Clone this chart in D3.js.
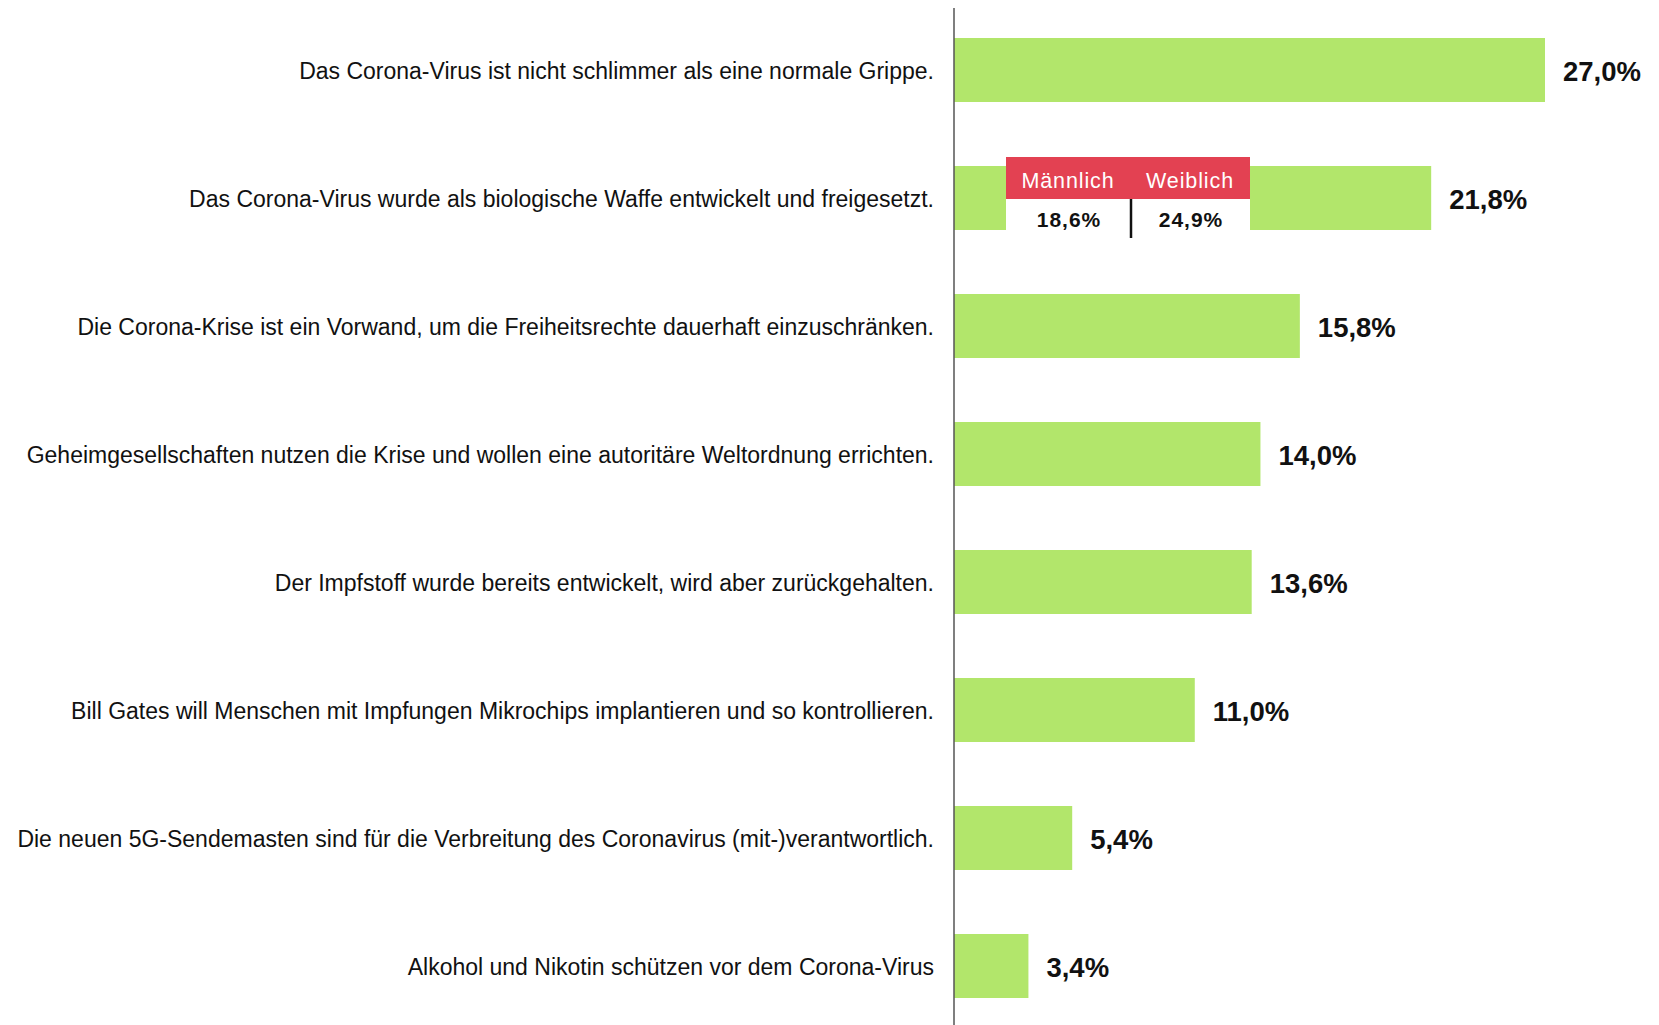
<!DOCTYPE html>
<html><head><meta charset="utf-8">
<script src="https://cdn.jsdelivr.net/npm/d3@7"></script>
<style>body{margin:0;background:#fff;} svg{display:block;}</style>
</head><body>
<script>
const categories = [
  "Das Corona-Virus ist nicht schlimmer als eine normale Grippe.",
  "Das Corona-Virus wurde als biologische Waffe entwickelt und freigesetzt.",
  "Die Corona-Krise ist ein Vorwand, um die Freiheitsrechte dauerhaft einzuschränken.",
  "Geheimgesellschaften nutzen die Krise und wollen eine autoritäre Weltordnung errichten.",
  "Der Impfstoff wurde bereits entwickelt, wird aber zurückgehalten.",
  "Bill Gates will Menschen mit Impfungen Mikrochips implantieren und so kontrollieren.",
  "Die neuen 5G-Sendemasten sind für die Verbreitung des Coronavirus (mit-)verantwortlich.",
  "Alkohol und Nikotin schützen vor dem Corona-Virus"
];
const values = [27.0, 21.8, 15.8, 14.0, 13.6, 11.0, 5.4, 3.4];
const insetLabels = ["Männlich", "Weiblich"];
const insetValues = [18.6, 24.9];

const W = 1659, H = 1025;
const fmt = v => v.toFixed(1).replace(".", ",") + "%";
const svg = d3.select("body").append("svg").attr("width", W).attr("height", H);
const FONT = "'Liberation Sans', Arial, sans-serif";

const x = d3.scaleLinear().domain([0, 27]).range([954, 1545]);
const y = d3.scaleBand().domain(categories).range([6, 1030]).paddingInner(0.5).paddingOuter(0.25);

svg.append("g").selectAll("rect").data(values).join("rect")
  .attr("x", x(0)).attr("y", (d, i) => y(categories[i]))
  .attr("width", d => x(d) - x(0)).attr("height", y.bandwidth())
  .attr("fill", "#B2E66B");

svg.append("line").attr("x1", 954).attr("x2", 954).attr("y1", 8).attr("y2", H)
  .attr("stroke", "#555").attr("stroke-width", 1.5);

svg.append("g").selectAll("text").data(categories).join("text")
  .attr("x", 934).attr("y", d => y(d) + y.bandwidth() / 2 + 1)
  .attr("text-anchor", "end").attr("dominant-baseline", "central")
  .attr("font-family", FONT).attr("font-size", 23)
  .attr("fill", "#111").text(d => d);

svg.append("g").selectAll("text").data(values).join("text")
  .attr("x", d => x(d) + 18).attr("y", (d, i) => y(categories[i]) + y.bandwidth() / 2 + 1)
  .attr("dominant-baseline", "central")
  .attr("font-family", FONT).attr("font-size", 27.5).attr("font-weight", "bold")
  .attr("fill", "#111").text(d => fmt(d));

// inset
const by = y(categories[1]);
const ix = d3.scaleBand().domain(insetLabels).range([1006, 1250]).paddingInner(0);
const iTop = by - 9, iHead = 42, iBottom = by + y.bandwidth();
svg.append("rect").attr("x", 1006).attr("y", iTop + iHead).attr("width", 244).attr("height", iBottom - iTop - iHead).attr("fill", "#fff");
svg.append("rect").attr("x", 1006).attr("y", iTop).attr("width", 244).attr("height", iHead).attr("fill", "#E34152");
svg.append("line").attr("x1", ix("Weiblich") + 3).attr("x2", ix("Weiblich") + 3).attr("y1", iTop + iHead).attr("y2", iBottom + 8)
  .attr("stroke", "#111").attr("stroke-width", 2.5);
svg.append("g").selectAll("text").data(insetLabels).join("text")
  .attr("x", d => ix(d) + ix.bandwidth() / 2 + 1).attr("y", iTop + iHead / 2 + 3)
  .attr("text-anchor", "middle").attr("dominant-baseline", "central")
  .attr("font-family", FONT).attr("font-size", 21.5).attr("letter-spacing", 0.9)
  .attr("fill", "#fff").text(d => d);
svg.append("g").selectAll("text").data(insetValues).join("text")
  .attr("x", (d, i) => ix(insetLabels[i]) + ix.bandwidth() / 2 + 2).attr("y", iTop + iHead + (iBottom - iTop - iHead) / 2 + 5)
  .attr("text-anchor", "middle").attr("dominant-baseline", "central")
  .attr("font-family", FONT).attr("font-size", 21).attr("font-weight", "bold").attr("letter-spacing", 1)
  .attr("fill", "#111").text(d => fmt(d));
</script>
</body></html>
